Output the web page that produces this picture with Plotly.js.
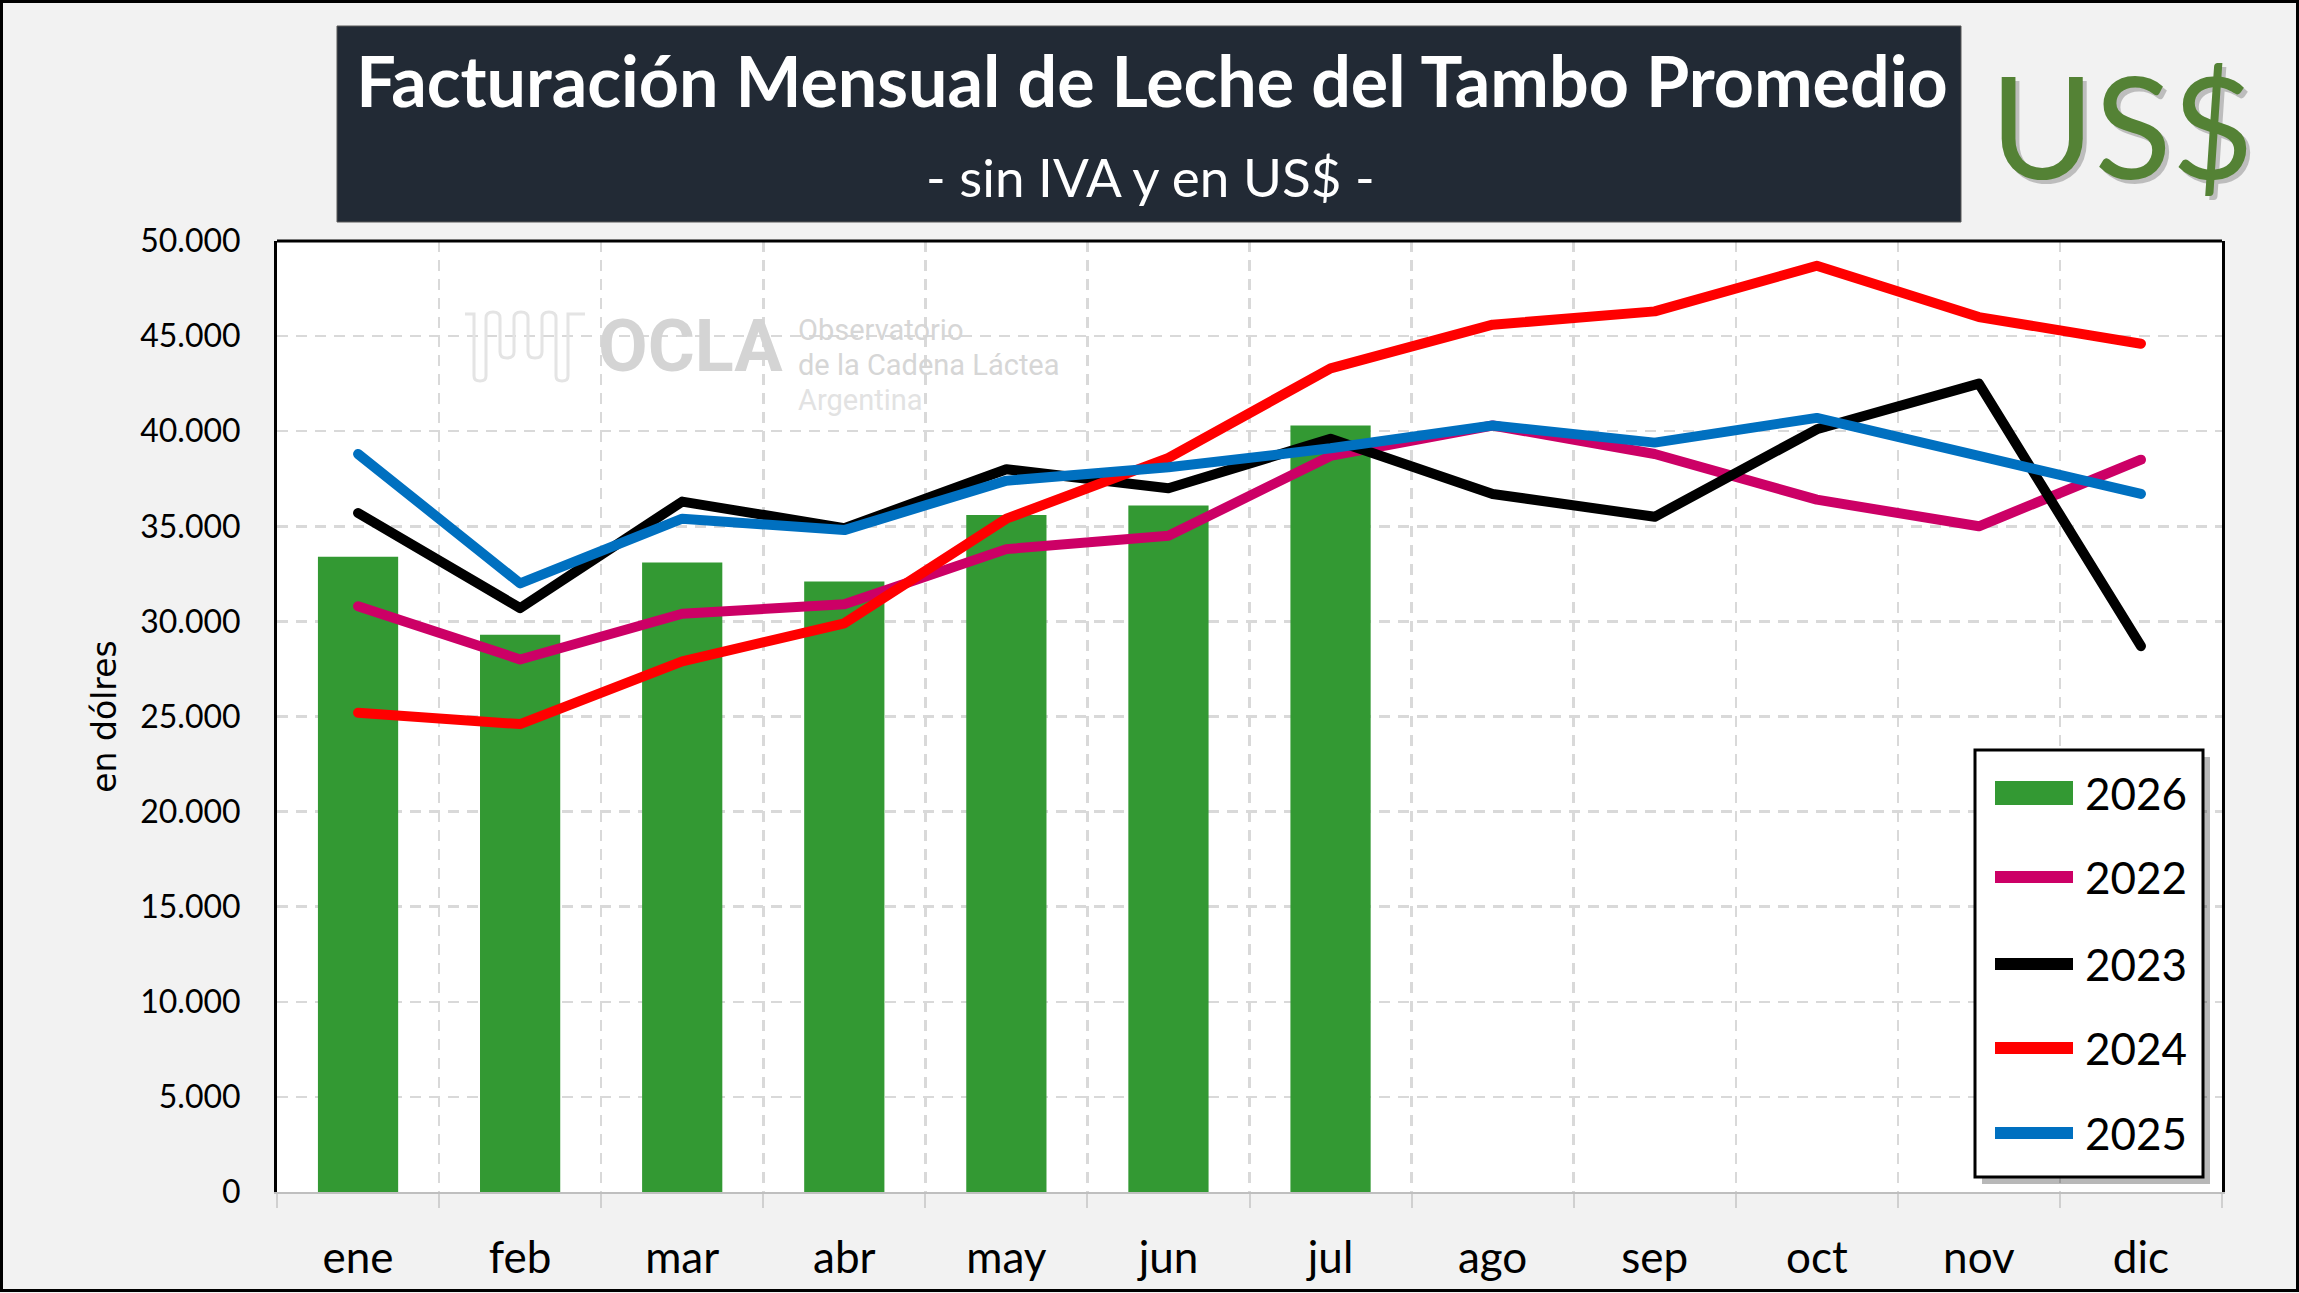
<!DOCTYPE html>
<html><head><meta charset="utf-8">
<script src="https://cdn.plot.ly/plotly-3.0.1.min.js"></script>
<style>html,body{margin:0;padding:0;background:#f2f2f2;}#chart{width:2299px;height:1293px;}</style>
</head><body><div id="chart"></div>
<script>
// ---- data ----
const months = ['ene','feb','mar','abr','may','jun','jul','ago','sep','oct','nov','dic'];
const barName = '2026';
const bars2026 = [33400, 29300, 33100, 32100, 35600, 36100, 40300];
const lineNames = ['2022','2023','2024','2025'];
const s2022 = [30800, 28000, 30400, 30900, 33800, 34500, 38700, 40300, 38800, 36400, 35000, 38500];
const s2023 = [35700, 30700, 36300, 34900, 38000, 37000, 39600, 36700, 35500, 40100, 42500, 28700];
const s2024 = [25200, 24600, 27900, 29900, 35400, 38600, 43300, 45600, 46300, 48700, 46000, 44600];
const s2025 = [38800, 32000, 35400, 34800, 37400, 38100, 39100, 40300, 39400, 40700, 38700, 36700];
const lineSeries = [s2022, s2023, s2024, s2025];
const yTitle = 'en dólres';
const titleText = 'Facturación Mensual de Leche del Tambo Promedio';
const subtitleText = '- sin IVA y en US$ -';

// ---- styles ----
const barColor = '#339933';
const lineColors = ['#CC0066', '#000000', '#FF0000', '#0070C0'];
const FONT = 'Lato, "Open Sans", sans-serif';
const W = 2299, H = 1293, L = 277, R = 2222, T = 241, B = 1192;
const px = p => (p - L) / (R - L);
const py = p => (B - p) / (B - T);

const traces = [{
  type: 'bar', name: barName, x: months.slice(0, bars2026.length), y: bars2026,
  marker: {color: barColor, line: {width: 0}}, showlegend: false
}];
lineSeries.forEach((s, i) => traces.push({
  type: 'scatter', mode: 'lines', name: lineNames[i], x: months, y: s,
  line: {color: lineColors[i], width: 10}, showlegend: false
}));

const shapes = [
  {type:'rect', xref:'paper', yref:'paper', x0:px(1.5), x1:px(2297.5), y0:py(1.5), y1:py(1290.5), line:{color:'#000', width:3}, fillcolor:'rgba(0,0,0,0)'},
  {type:'rect', xref:'paper', yref:'paper', x0:px(337), x1:px(1961), y0:py(26), y1:py(222), line:{color:'#595959', width:1}, fillcolor:'#222a35'},
  {type:'line', xref:'paper', yref:'paper', x0:0, x1:1, y0:1, y1:1, line:{color:'#000', width:3}},
  {type:'rect', xref:'paper', yref:'paper', x0:px(1982), x1:px(2210), y0:py(757), y1:py(1184), line:{width:0}, fillcolor:'rgba(0,0,0,0.28)'},
  {type:'rect', xref:'paper', yref:'paper', x0:px(1975), x1:px(2203), y0:py(750), y1:py(1177), line:{color:'#000', width:3}, fillcolor:'#ffffff'},
  {type:'rect', xref:'paper', yref:'paper', x0:px(1995), x1:px(2073), y0:py(781), y1:py(805), line:{width:0}, fillcolor:barColor}
];
const legendY = [793, 877, 964, 1048, 1133];
lineNames.forEach((n, i) => shapes.push({
  type:'line', xref:'paper', yref:'paper', x0:px(1995), x1:px(2073), y0:py(legendY[i+1]), y1:py(legendY[i+1]),
  line:{color:lineColors[i], width:12}
}));

const annotations = [
  {xref:'paper', yref:'paper', x:px(1150), y:py(177), text:subtitleText, showarrow:false, xanchor:'center', yanchor:'middle',
   font:{family:FONT, size:53, color:'#ffffff'}},
  {xref:'paper', yref:'paper', x:px(2126), y:py(128), text:'US$', showarrow:false, xanchor:'center', yanchor:'middle',
   font:{family:FONT, size:142, color:'rgba(0,0,0,0.22)'}},
  {xref:'paper', yref:'paper', x:px(2122), y:py(124), text:'US$', showarrow:false, xanchor:'center', yanchor:'middle',
   font:{family:FONT, size:142, color:'#548235'}},
  // watermark
  {xref:'paper', yref:'paper', x:px(596), y:py(346), text:'<b>OCLA</b>', showarrow:false, xanchor:'left', yanchor:'middle',
   font:{family:'Roboto, sans-serif', size:72, color:'#d4d4d4'}},
  {xref:'paper', yref:'paper', x:px(796), y:py(330), text:'Observatorio', showarrow:false, xanchor:'left', yanchor:'middle',
   font:{family:'Roboto, sans-serif', size:29, color:'#d6d6d6'}},
  {xref:'paper', yref:'paper', x:px(796), y:py(365), text:'de la Cadena Láctea', showarrow:false, xanchor:'left', yanchor:'middle',
   font:{family:'Roboto, sans-serif', size:29, color:'#d6d6d6'}},
  {xref:'paper', yref:'paper', x:px(796), y:py(400), text:'Argentina', showarrow:false, xanchor:'left', yanchor:'middle',
   font:{family:'Roboto, sans-serif', size:29, color:'#e2e2e2'}}
];
[barName].concat(lineNames).forEach((n, i) => annotations.push({
  xref:'paper', yref:'paper', x:px(2083), y:py(legendY[i]), text:n, showarrow:false, xanchor:'left', yanchor:'middle',
  font:{family:FONT, size:44, color:'#000'}
}));

// OCLA wave logo outline
(function(){
  let d = `M${px(465)},${py(314)} L${px(474)},${py(314)} L${px(474)},${py(376)} Q${px(474)},${py(381)} ${px(480)},${py(381)} Q${px(486)},${py(381)} ${px(486)},${py(376)} L${px(486)},${py(318)}`;
  const xs = [486, 500, 514, 528, 542];
  for (let k = 0; k < xs.length - 1; k++) {
    const a = xs[k], b = xs[k+1], m = (a+b)/2;
    if (k % 2 === 0) d += ` Q${px(a)},${py(312)} ${px(m)},${py(312)} Q${px(b)},${py(312)} ${px(b)},${py(318)} L${px(b)},${py(352)}`;
    else d += ` Q${px(a)},${py(358)} ${px(m)},${py(358)} Q${px(b)},${py(358)} ${px(b)},${py(352)} L${px(b)},${py(318)}`;
  }
  d += ` Q${px(542)},${py(312)} ${px(549)},${py(312)} Q${px(556)},${py(312)} ${px(556)},${py(318)} L${px(556)},${py(376)} Q${px(556)},${py(381)} ${px(562)},${py(381)} Q${px(568)},${py(381)} ${px(568)},${py(376)} L${px(568)},${py(314)} L${px(585)},${py(314)}`;
  shapes.push({type:'path', xref:'paper', yref:'paper', path:d, line:{color:'#e4e4e4', width:3}});
})();

const layout = {
  width: W, height: H,
  margin: {l: L, r: W - R, t: T, b: H - B, pad: 0},
  paper_bgcolor: '#f2f2f2', plot_bgcolor: '#ffffff',
  separators: ',.',
  showlegend: false,
  bargap: 0.505,
  title: {text: '<b>' + titleText + '</b>', font: {family: FONT, size: 70, color: '#ffffff'},
          x: 1152 / W, xanchor: 'center', xref: 'container', y: 1 - 82 / H, yanchor: 'middle', yref: 'container'},
  xaxis: {type: 'category', range: [-0.5, 11.5], tickson: 'boundaries',
          showgrid: true, gridcolor: '#d9d9d9', gridwidth: 2.5, griddash: '11px,8px',
          showline: true, linecolor: '#bfbfbf', linewidth: 2,
          ticks: 'outside', ticklen: 14, tickcolor: '#d0d0d0', tickwidth: 2,
          ticklabelstandoff: 26,
          tickfont: {family: FONT, size: 44, color: '#000'}},
  yaxis: {range: [0, 50000], dtick: 5000, tickformat: ',d',
          showgrid: true, gridcolor: '#d9d9d9', gridwidth: 2.5, griddash: '11px,8px',
          zeroline: false, showline: true, linecolor: '#000', linewidth: 3, mirror: true,
          ticks: '', ticklabelstandoff: 27,
          tickfont: {family: FONT, size: 32, color: '#000'},
          title: {text: yTitle, standoff: 14, font: {family: '"DejaVu Sans", Verdana, sans-serif', size: 33, color: '#000'}}},
  shapes: shapes,
  annotations: annotations
};

Plotly.newPlot('chart', traces, layout, {staticPlot: true, displayModeBar: false}).then(() => {
  document.querySelectorAll('.scatterlayer path.js-line').forEach(p => {
    p.style.strokeLinejoin = 'round'; p.style.strokeLinecap = 'round';
  });
});
</script>
</body></html>
